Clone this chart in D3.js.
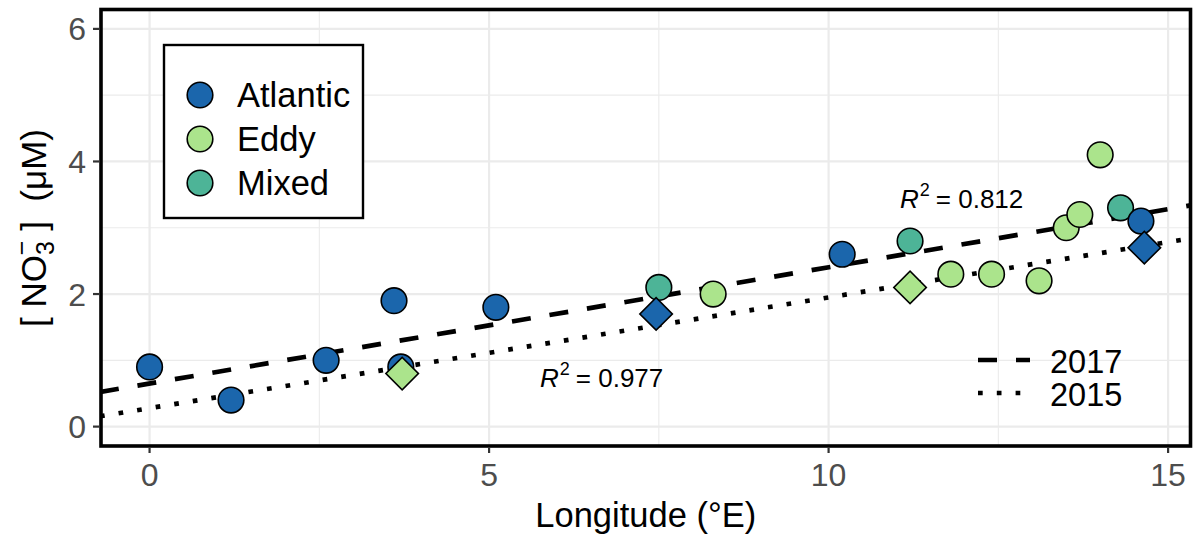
<!DOCTYPE html>
<html>
<head>
<meta charset="utf-8">
<script src="https://cdn.jsdelivr.net/npm/d3@7"></script>
<style>
  body { margin: 0; background: #fff; }
  svg { display: block; font-family: "Liberation Sans", Arial, Helvetica, sans-serif; }
  text { white-space: pre; }
</style>
</head>
<body>
<svg id="chart" width="1196" height="534"></svg>
<script>
// 2017 stations (circles): water mass, longitude (°E), nitrate (µM)
const mass2017 = ["Mixed", "Mixed", "Mixed",
                  "Eddy", "Eddy", "Eddy", "Eddy", "Eddy", "Eddy", "Eddy",
                  "Atlantic", "Atlantic", "Atlantic", "Atlantic", "Atlantic", "Atlantic", "Atlantic", "Atlantic"];
const lon2017  = [7.5, 11.2, 14.3,
                  8.3, 11.8, 12.4, 13.1, 13.5, 13.7, 14.0,
                  0.0, 1.2, 2.6, 3.6, 3.7, 5.1, 10.2, 14.6];
const no3_2017 = [2.1, 2.8, 3.3,
                  2.0, 2.3, 2.3, 2.2, 3.0, 3.2, 4.1,
                  0.9, 0.4, 1.0, 1.9, 0.9, 1.8, 2.6, 3.1];

// 2015 stations (diamonds)
const mass2015 = ["Eddy", "Atlantic", "Eddy", "Atlantic"];
const lon2015  = [3.72, 7.46, 11.2, 14.65];
const no3_2015 = [0.8, 1.7, 2.1, 2.7];

const waterMasses = ["Atlantic", "Eddy", "Mixed"];
const massColors  = ["#1b66ac", "#abe48c", "#4db497"];

const xTicks = [0, 5, 10, 15];
const xMinor = [2.5, 7.5, 12.5];
const yTicks = [0, 2, 4, 6];
const yMinor = [1, 3, 5];

const years = ["2017", "2015"];

const svg = d3.select("#chart");
const panel = { left: 101, right: 1190.5, top: 9.5, bottom: 446 };

const x = d3.scaleLinear().domain([-0.73, 15.33]).range([100, 1190.5]);
const y = d3.scaleLinear().domain([-0.3, 6.3]).range([446.5, 9]);
const color = d3.scaleOrdinal().domain(waterMasses).range(massColors);

// least-squares fit
function fit(xs, ys) {
  const mx = d3.mean(xs), my = d3.mean(ys);
  let sxy = 0, sxx = 0, syy = 0;
  xs.forEach((v, i) => {
    sxy += (v - mx) * (ys[i] - my);
    sxx += (v - mx) ** 2;
    syy += (ys[i] - my) ** 2;
  });
  const slope = sxy / sxx;
  return { slope, intercept: my - slope * mx, r2: (sxy * sxy) / (sxx * syy) };
}
const fit2017 = fit(lon2017, no3_2017);
const fit2015 = fit(lon2015, no3_2015);

// panel background + grid
svg.append("rect").attr("x", panel.left).attr("y", panel.top)
  .attr("width", panel.right - panel.left).attr("height", panel.bottom - panel.top)
  .attr("fill", "#fff");

const grid = svg.append("g");
grid.selectAll(".xmin").data(xMinor).join("line")
  .attr("x1", d => x(d)).attr("x2", d => x(d)).attr("y1", panel.top).attr("y2", panel.bottom)
  .attr("stroke", "#ebebeb").attr("stroke-width", 1.1);
grid.selectAll(".ymin").data(yMinor).join("line")
  .attr("y1", d => y(d)).attr("y2", d => y(d)).attr("x1", panel.left).attr("x2", panel.right)
  .attr("stroke", "#ebebeb").attr("stroke-width", 1.1);
grid.selectAll(".xmaj").data(xTicks).join("line")
  .attr("x1", d => x(d)).attr("x2", d => x(d)).attr("y1", panel.top).attr("y2", panel.bottom)
  .attr("stroke", "#ebebeb").attr("stroke-width", 2.2);
grid.selectAll(".ymaj").data(yTicks).join("line")
  .attr("y1", d => y(d)).attr("y2", d => y(d)).attr("x1", panel.left).attr("x2", panel.right)
  .attr("stroke", "#ebebeb").attr("stroke-width", 2.2);

// regression lines
svg.append("clipPath").attr("id", "panelClip").append("rect")
  .attr("x", panel.left).attr("y", panel.top)
  .attr("width", panel.right - panel.left).attr("height", panel.bottom - panel.top);
const lineStyles = { "2017": "19,19", "2015": "4.7,14.1" };
const fits = { "2017": fit2017, "2015": fit2015 };
const xd = x.domain();
const lineGen = d3.line().x(d => x(d[0])).y(d => y(d[1]));
years.forEach(yr => {
  const f = fits[yr];
  svg.append("path")
    .attr("clip-path", "url(#panelClip)")
    .attr("d", lineGen(xd.map(v => [v, f.intercept + f.slope * v])))
    .attr("fill", "none").attr("stroke", "#000").attr("stroke-width", 4.7)
    .attr("stroke-dasharray", lineStyles[yr]);
});

// points: circles for 2017, diamonds for 2015
const pts2017 = lon2017.map((v, i) => ({ lon: v, no3: no3_2017[i], mass: mass2017[i] }));
const pts2015 = lon2015.map((v, i) => ({ lon: v, no3: no3_2015[i], mass: mass2015[i] }));

svg.append("g").selectAll("circle").data(pts2017).join("circle")
  .attr("cx", d => x(d.lon)).attr("cy", d => y(d.no3)).attr("r", 12.8)
  .attr("fill", d => color(d.mass)).attr("stroke", "#000").attr("stroke-width", 1.6);

const diamond = d3.symbol().type(d3.symbolSquare).size(23 * 23);
svg.append("g").selectAll("path").data(pts2015).join("path")
  .attr("d", diamond)
  .attr("transform", d => `translate(${x(d.lon)},${y(d.no3)}) rotate(45)`)
  .attr("fill", d => color(d.mass)).attr("stroke", "#000").attr("stroke-width", 1.6);

// R² annotations
function r2Label(px, py, r2) {
  const t = svg.append("text").attr("x", px).attr("y", py).attr("font-size", 26).attr("fill", "#000");
  t.append("tspan").attr("font-style", "italic").text("R");
  t.append("tspan").attr("font-size", 18).attr("dy", -12).attr("dx", 1).text("2");
  t.append("tspan").attr("dy", 12).attr("dx", 6).text("= " + d3.format(".3f")(r2));
}
r2Label(900, 208, fit2017.r2);
r2Label(540, 387, fit2015.r2);

// panel border
svg.append("rect").attr("x", panel.left).attr("y", panel.top)
  .attr("width", panel.right - panel.left).attr("height", panel.bottom - panel.top)
  .attr("fill", "none").attr("stroke", "#000").attr("stroke-width", 3.6);

// axes
const ax = svg.append("g");
ax.selectAll(".yt").data(yTicks).join("line")
  .attr("x1", 93).attr("x2", panel.left - 1.8).attr("y1", d => y(d)).attr("y2", d => y(d))
  .attr("stroke", "#333").attr("stroke-width", 2.2);
ax.selectAll(".yl").data(yTicks).join("text")
  .attr("x", 86).attr("y", d => y(d) + 11.5).attr("text-anchor", "end")
  .attr("font-size", 32).attr("fill", "#4d4d4d").text(d => d);
ax.selectAll(".xt").data(xTicks).join("line")
  .attr("y1", panel.bottom + 1.8).attr("y2", 453).attr("x1", d => x(d)).attr("x2", d => x(d))
  .attr("stroke", "#333").attr("stroke-width", 2.2);
ax.selectAll(".xl").data(xTicks).join("text")
  .attr("x", d => x(d)).attr("y", 486).attr("text-anchor", "middle")
  .attr("font-size", 32).attr("fill", "#4d4d4d").text(d => d);

svg.append("text").attr("x", (panel.left + panel.right) / 2).attr("y", 527)
  .attr("text-anchor", "middle").attr("font-size", 34.5).attr("fill", "#000")
  .text("Longitude (°E)");

const yt = svg.append("text").attr("transform", "translate(46,228) rotate(-90)")
  .attr("text-anchor", "middle").attr("font-size", 35).attr("fill", "#000");
yt.append("tspan").text("[ NO");
yt.append("tspan").attr("font-size", 25).attr("dy", 8).text("3");
yt.append("tspan").attr("font-size", 25).attr("dx", -14).attr("dy", -24).text("−");
yt.append("tspan").attr("dy", 16).text(" ]  (μM)");

// water-mass legend
const lg = svg.append("g");
lg.append("rect").attr("x", 164).attr("y", 45).attr("width", 199).attr("height", 173)
  .attr("fill", "#fff").attr("stroke", "#000").attr("stroke-width", 2.4);
const legRows = lg.selectAll("g.row").data(waterMasses).join("g")
  .attr("transform", (d, i) => `translate(200,${95 + i * 44})`);
legRows.append("circle").attr("r", 12.8).attr("fill", d => color(d))
  .attr("stroke", "#000").attr("stroke-width", 1.6);
legRows.append("text").attr("x", 37).attr("y", 12).attr("font-size", 34.5).attr("fill", "#000").text(d => d);

// year legend
const yl = svg.append("g").selectAll("g").data(years).join("g")
  .attr("transform", (d, i) => `translate(978,${360 + i * 33})`);
yl.append("line").attr("x1", 0).attr("x2", 52).attr("y1", 0).attr("y2", 0)
  .attr("stroke", "#000").attr("stroke-width", 4.7).attr("stroke-dasharray", d => lineStyles[d]);
yl.append("text").attr("x", 72).attr("y", 13).attr("font-size", 32.5).attr("fill", "#000").text(d => d);
</script>
</body>
</html>
